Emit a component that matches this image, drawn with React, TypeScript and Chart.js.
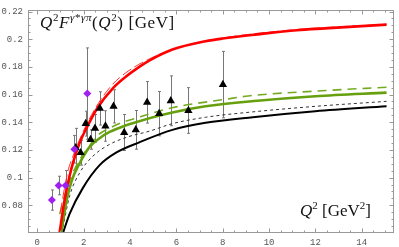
import { useEffect, useRef } from "react";
import { Chart, registerables } from "chart.js";

Chart.register(...registerables);

// ---- axis ticks ----
const xTickValues = [0, 2, 4, 6, 8, 10, 12, 14];
const xTickLabels = ["0", "2", "4", "6", "8", "10", "12", "14"];
const yTickValues = [0.08, 0.1, 0.12, 0.14, 0.16, 0.18, 0.2, 0.22];
const yTickLabels = ["0.08", "0.1", "0.12", "0.14", "0.16", "0.18", "0.2", "0.22"];

// ---- data points (CELLO diamonds, CLEO triangles) ----
const celloQ2 = [0.63, 0.92, 1.22, 1.6, 2.16];
const celloF = [0.0838, 0.0943, 0.0943, 0.1205, 0.1607];
const celloErr = [0.0073, 0.0067, 0.0108, 0.01, 0.033];

const cleoQ2 = [1.66, 1.87, 2.09, 2.3, 2.49, 2.7, 2.94, 3.29, 3.75, 4.25, 4.74, 5.26, 5.76, 6.52, 8.01];
const cleoF = [0.1216, 0.118, 0.139, 0.1275, 0.1356, 0.15, 0.1373, 0.1515, 0.1326, 0.1345, 0.1544, 0.1462, 0.1555, 0.1485, 0.1672];
const cleoErr = [0.014, 0.009, 0.009, 0.007, 0.01, 0.012, 0.011, 0.012, 0.013, 0.014, 0.015, 0.016, 0.018, 0.0165, 0.024];

// ---- theory curves ----
const redQ2 = [0.96, 1.17, 1.39, 1.6, 1.85, 2.1, 2.6, 3.26, 3.83, 4.4, 4.83, 5.83, 7.26, 8, 9.5, 11.2, 12.4, 15.07];
const redF = [0.06, 0.083, 0.101, 0.114, 0.126, 0.135, 0.1505, 0.1645, 0.173, 0.18, 0.1845, 0.1925, 0.1985, 0.2005, 0.2035, 0.2065, 0.2078, 0.2105];

const redThinQ2 = [0.99, 1.32, 1.6, 1.89, 2.5, 3.2, 3.8, 4.8, 6, 8, 11, 15.07];
const redThinF = [0.075, 0.1045, 0.118, 0.13, 0.15, 0.1665, 0.1755, 0.1855, 0.1935, 0.2008, 0.2067, 0.2108];

const greenQ2 = [1.03, 1.26, 1.47, 1.8, 2.26, 2.69, 3.12, 3.83, 4.4, 5.83, 7.26, 9.5, 12, 15.07];
const greenF = [0.06, 0.083, 0.097, 0.1095, 0.1222, 0.1285, 0.133, 0.1378, 0.1408, 0.147, 0.1515, 0.1555, 0.1588, 0.1614];

const greenDashQ2 = [0.97, 1.2, 1.5, 1.82, 2.15, 2.61, 3.04, 3.69, 4.26, 4.83, 5.47, 6.04, 6.69, 7.97, 9.1, 12, 15.07];
const greenDashF = [0.0735, 0.088, 0.102, 0.1126, 0.1205, 0.1305, 0.135, 0.14, 0.143, 0.146, 0.149, 0.1513, 0.1532, 0.1562, 0.159, 0.1625, 0.1653];

const blackDashQ2 = [1.05, 1.11, 1.4, 1.83, 2.4, 3.12, 3.92, 4.83, 5.83, 7.26, 9.3, 12, 15.07];
const blackDashF = [0.06, 0.0645, 0.087, 0.1035, 0.1155, 0.124, 0.1295, 0.1335, 0.139, 0.1436, 0.1475, 0.1515, 0.1551];

const blackQ2 = [1.11, 1.4, 1.97, 2.69, 3.4, 4.4, 5.83, 7.26, 9.3, 12, 15.07];
const blackF = [0.06, 0.074, 0.0926, 0.109, 0.118, 0.1255, 0.1345, 0.1396, 0.1437, 0.148, 0.1516];

const pts = (xs: number[], ys: number[]) => xs.map((x, i) => ({ x, y: ys[i] }));

const errorBarPlugin = {
  id: "errorBars",
  beforeDatasetsDraw(chart: any) {
    const { ctx, chartArea } = chart;
    const xs = chart.scales.x;
    const ys = chart.scales.y;
    ctx.save();
    ctx.beginPath();
    ctx.rect(chartArea.left, chartArea.top, chartArea.right - chartArea.left, chartArea.bottom - chartArea.top);
    ctx.clip();
    ctx.strokeStyle = "#777";
    ctx.lineWidth = 1;
    const draw = (qs: number[], fs: number[], es: number[]) => {
      qs.forEach((q, i) => {
        const px = Math.round(xs.getPixelForValue(q)) + 0.5;
        const y1 = ys.getPixelForValue(fs[i] + es[i]);
        const y2 = ys.getPixelForValue(fs[i] - es[i]);
        ctx.beginPath();
        ctx.moveTo(px, y1);
        ctx.lineTo(px, y2);
        ctx.moveTo(px - 1.5, y1);
        ctx.lineTo(px + 1.5, y1);
        ctx.moveTo(px - 1.5, y2);
        ctx.lineTo(px + 1.5, y2);
        ctx.stroke();
      });
    };
    draw(celloQ2, celloF, celloErr);
    draw(cleoQ2, cleoF, cleoErr);
    ctx.restore();
  },
};

const framePlugin = {
  id: "frameTicks",
  afterDatasetsDraw(chart: any) {
    const { ctx, chartArea } = chart;
    const xs = chart.scales.x;
    const ys = chart.scales.y;
    const l = Math.round(chartArea.left) + 0.5;
    const r = Math.round(chartArea.right) - 0.5;
    const t = Math.round(chartArea.top) + 0.5;
    const b = Math.round(chartArea.bottom) - 0.5;
    ctx.save();
    ctx.strokeStyle = "#999";
    ctx.lineWidth = 1;
    ctx.strokeRect(l, t, r - l, b - t);
    ctx.beginPath();
    for (let k = 0; k <= 31; k++) {
      const v = k * 0.5;
      const major = k % 4 === 0;
      const len = major ? 4 : 2;
      const px = Math.round(xs.getPixelForValue(v)) + 0.5;
      if (px < l || px > r) continue;
      ctx.moveTo(px, b);
      ctx.lineTo(px, b - len);
      ctx.moveTo(px, t);
      ctx.lineTo(px, t + len);
    }
    for (let k = 12; k <= 44; k++) {
      const v = k * 0.005;
      const major = k % 4 === 0;
      const len = major ? 4 : 2;
      const py = Math.round(ys.getPixelForValue(v)) + 0.5;
      if (py < t || py > b) continue;
      ctx.moveTo(l, py);
      ctx.lineTo(l + len, py);
      ctx.moveTo(r, py);
      ctx.lineTo(r - len, py);
    }
    ctx.stroke();
    ctx.restore();
  },
};

const tickFont = { family: "'Liberation Mono', 'DejaVu Sans Mono', monospace", size: 9 };

export default function App() {
  const canvasRef = useRef<HTMLCanvasElement | null>(null);

  useEffect(() => {
    if (!canvasRef.current) return;
    const curve = (data: any, color: string, width: number, dash: number[] = []) => ({
      data,
      showLine: true,
      borderColor: color,
      backgroundColor: color,
      borderWidth: width,
      borderDash: dash,
      pointRadius: 0,
      cubicInterpolationMode: "monotone" as const,
      fill: false,
    });
    const chart = new Chart(canvasRef.current, {
      type: "scatter",
      data: {
        datasets: [
          {
            data: pts(celloQ2, celloF),
            pointStyle: "rectRot",
            pointRadius: 4,
            backgroundColor: "#a020f0",
            borderColor: "#a020f0",
            borderWidth: 0,
          } as any,
          {
            data: pts(cleoQ2, cleoF),
            pointStyle: "triangle",
            pointRadius: 4.8,
            backgroundColor: "#000",
            borderColor: "#000",
            borderWidth: 0,
          } as any,
          curve(pts(redQ2, redF), "#ff0000", 2.6),
          curve(pts(redThinQ2, redThinF), "#ff3030", 1, [10, 4]),
          curve(pts(greenQ2, greenF), "#66a00e", 2.6),
          curve(pts(greenDashQ2, greenDashF), "#74aa22", 1.6, [9, 6]),
          curve(pts(blackDashQ2, blackDashF), "#333", 1, [3, 3]),
          curve(pts(blackQ2, blackF), "#000", 2),
        ],
      },
      options: {
        animation: false,
        responsive: false,
        events: [],
        layout: { padding: { top: 4, right: 2, left: 0, bottom: 0 } },
        plugins: { legend: { display: false }, tooltip: { enabled: false } },
        scales: {
          x: {
            type: "linear",
            min: -0.4,
            max: 15.4,
            afterBuildTicks: (s: any) => {
              s.ticks = xTickValues.map((v) => ({ value: v }));
            },
            afterFit: (s: any) => {
              s.height = 14;
            },
            ticks: {
              callback: (_v: any, i: number) => xTickLabels[i],
              font: tickFont,
              color: "#555",
              padding: 4,
              maxRotation: 0,
              autoSkip: false,
            },
            grid: { display: false, drawTicks: false },
            border: { display: false },
          },
          y: {
            type: "linear",
            min: 0.06,
            max: 0.2208,
            afterBuildTicks: (s: any) => {
              s.ticks = yTickValues.map((v) => ({ value: v }));
            },
            afterFit: (s: any) => {
              s.width = 28;
            },
            ticks: {
              callback: (_v: any, i: number) => yTickLabels[i],
              font: tickFont,
              color: "#555",
              padding: 5,
              autoSkip: false,
            },
            grid: { display: false, drawTicks: false },
            border: { display: false },
          },
        },
      },
      plugins: [errorBarPlugin, framePlugin],
    } as any);
    return () => chart.destroy();
  }, []);

  const serif = "'Liberation Serif', 'Times New Roman', serif";
  const sup = { fontSize: "11px", position: "relative" as const, top: "-7px", lineHeight: "0" };

  return (
    <div style={{ position: "fixed", left: 0, top: 0, width: 399, height: 247, background: "#fff" }}>
      <canvas ref={canvasRef} width={399} height={247} style={{ display: "block", width: 399, height: 247 }} />
      <div
        style={{
          position: "absolute",
          left: 40,
          top: 14,
          fontFamily: serif,
          fontSize: "17px",
          lineHeight: "17px",
          whiteSpace: "nowrap",
          color: "#111",
          letterSpacing: "0.6px",
          pointerEvents: "none",
        }}
      >
        <i>Q</i>
        <span style={sup}>2</span>
        <i>F</i>
        <span style={sup}>
          <i>γ</i>*<i>γπ</i>
        </span>
        (<i>Q</i>
        <span style={sup}>2</span>) [GeV]
      </div>
      <div
        style={{
          position: "absolute",
          left: 300,
          top: 202,
          fontFamily: serif,
          fontSize: "17px",
          lineHeight: "17px",
          whiteSpace: "nowrap",
          color: "#111",
          pointerEvents: "none",
        }}
      >
        <i>Q</i>
        <span style={sup}>2</span> [GeV<span style={sup}>2</span>]
      </div>
    </div>
  );
}
